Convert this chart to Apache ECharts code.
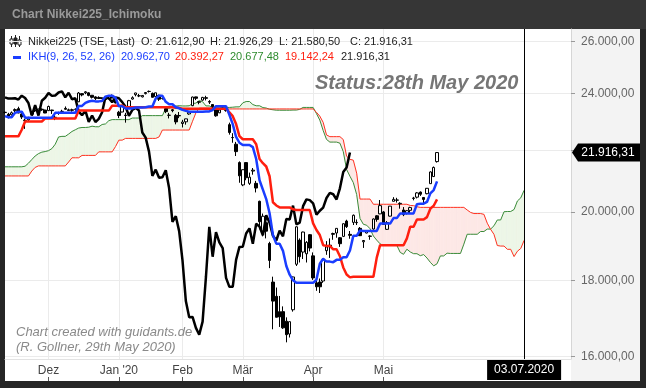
<!DOCTYPE html>
<html><head><meta charset="utf-8">
<script src="https://cdn.jsdelivr.net/npm/echarts@6/dist/echarts.min.js"></script>
<style>html,body{margin:0;padding:0;background:#262626;}#c{width:646px;height:388px;}</style>
</head><body><div id="c"></div>
<script>
// ---------- trading calendar (categories) ----------
const tradingDays = [
 ['11.2019',[13,14,15,18,19,20,21,22,25,26,27,28,29]],
 ['12.2019',[2,3,4,5,6,9,10,11,12,13,16,17,18,19,20,23,24,25,26,27,30]],
 ['01.2020',[6,7,8,9,10,14,15,16,17,20,21,22,23,24,27,28,29,30,31]],
 ['02.2020',[3,4,5,6,7,10,12,13,14,17,18,19,20,21,25,26,27,28]],
 ['03.2020',[2,3,4,5,6,9,10,11,12,13,16,17,18,19,23,24,25,26,27,30,31]],
 ['04.2020',[1,2,3,6,7,8,9,10,13,14,15,16,17,20,21,22,23,24,27,28,30]],
 ['05.2020',[1,7,8,11,12,13,14,15,18,19,20,21,22,25,26,27,28,29]],
 ['06.2020',[1,2,3,4,5,8,9,10,11,12,15,16,17,18,19,22,23,24,25,26,29,30]],
 ['07.2020',[1,2,3,6,7,8,9,10,13,14,15,16,17,20,21,22,27]]
];
const monthLabels = {'12.2019':'Dez','01.2020':"Jan '20",'02.2020':'Feb','03.2020':'Mär','04.2020':'Apr','05.2020':'Mai'};
const markerDate = '03.07.2020';
const yLabelValues = [16000,18000,20000,24000,26000];
const yTickValues = [16000,18000,20000,22000,24000,26000];

// ---------- Nikkei225 daily candles (13.11.2019 - 28.05.2020) ----------
const opens = [
 23310,23250,23230,23380,23450,23260,23020,23050,23250,23390,23390,23430,23400,
 23380,23400,23140,23290,23350,23460,23380,23410,23430,23700,24000,24030,24030,23940,23880,23860,23840,23800,23810,23900,23780,
 23320,23330,23220,23530,23800,23960,23920,23880,24000,24080,24010,23890,23940,23820,23450,23210,23410,23210,23190,
 22920,22980,23260,23560,23880,23700,23760,23850,23710,23600,23420,23300,23440,23460,22880,22430,22200,21580,
 20850,21580,20900,21300,20900,20330,19390,19670,19050,17950,17560,17150,17150,16900,16570,17200,18450,19150,18800,18750,19310,
 18690,17930,17950,17980,18840,19000,19320,19360,19220,19260,19720,19320,19680,19680,19500,19100,19360,19270,19480,19880,19940,
 20000,19470,19870,20330,20370,20250,20060,19960,20050,20420,20460,20620,20450,20570,20890,21120,21612.90];
const highs = [
 23350,23300,23350,23460,23520,23300,23090,23160,23330,23410,23440,23460,23410,
 23560,23410,23220,23340,23410,23530,23450,23450,23460,24060,24010,24090,24050,23940,23900,23900,23860,23820,23930,23970,23800,
 23370,23580,23300,23770,23900,24030,23990,23940,24060,24115,24040,24030,23960,23900,23470,23300,23440,23260,23330,
 23050,23090,23360,23890,23890,23720,23880,23920,23760,23610,23470,23410,23540,23490,22950,22580,22280,21620,
 21350,21590,21250,21400,20980,20350,19950,19780,19100,18100,17800,17570,17290,17000,16890,18100,19560,19200,19400,19120,19330,
 18790,18100,18050,18600,19120,19200,19370,19500,19240,19650,19760,19420,19920,19770,19540,19150,19450,19290,19800,19900,20370,
 20030,19720,20180,20460,20440,20300,20150,20060,20160,20470,20620,20640,20460,20750,21290,21450,21926.29];
const lows = [
 23270,23100,23200,23310,23290,23080,22730,22990,23230,23330,23360,23370,23290,
 23370,23260,23040,23230,23330,23410,23380,23340,23370,23690,23900,23980,23900,23820,23760,23800,23800,23760,23800,23830,23640,
 23110,23320,22950,23520,23780,23900,23870,23860,23970,24040,23860,23880,23730,23780,23290,23100,23320,22890,23110,
 22780,22880,23230,23540,23760,23610,23740,23750,23620,23460,23160,23290,23420,23340,22530,22250,21800,20920,
 20810,21000,20850,21180,20610,19470,19260,19200,18340,16690,17000,16750,16700,16358,16480,17150,18400,18500,18600,18500,18820,
 18010,17710,17650,17930,18720,18630,19160,19220,18950,19240,19510,19190,19600,19600,19270,18920,19350,19160,19460,19700,19930,
 19620,19450,19860,20330,20290,20100,19870,19920,19960,20360,20420,20500,20270,20550,20890,21110,21580.50];
const closes = [
 23320,23141,23303,23417,23293,23148,23038,23113,23293,23373,23438,23410,23294,
 23529,23380,23135,23300,23354,23430,23410,23391,23424,24023,23952,24066,23934,23864,23816,23821,23830,23782,23924,23837,23657,
 23204,23575,23204,23740,23850,24025,23917,23933,24041,24083,23865,24031,23795,23827,23344,23216,23379,22977,23205,
 22972,23085,23320,23874,23828,23686,23861,23828,23688,23523,23194,23401,23479,23387,22605,22426,21948,21143,
 21344,21082,21100,21329,20750,19699,19867,19416,18560,17431,17002,17011,16727,16552,16887,18092,19546,18665,19389,19084,18917,
 18066,17819,17820,18576,18950,18954,19346,19499,19044,19639,19551,19291,19897,19670,19281,19138,19429,19262,19784,19771,20194,
 19619,19674,20179,20391,20366,20267,19915,20037,20134,20433,20595,20552,20388,20742,21271,21419,21916.31];

// ---------- Ichimoku lines ----------
const tenkan = [
 23180,23140,23140,23300,23340,23340,23125,23125,23125,23125,23125,23125,23125,23125,23125,
 23300,23300,23300,23300,23300,23300,23300,23550,23550,23660,23710,23735,23715,23715,23730,23890,23925,23925,23845,
 23540,23540,23460,23460,23460,23490,23490,23490,23505,23530,23530,23820,23920,23920,23700,23610,23610,23500,23465,
 23405,23370,23340,23335,23335,23335,23335,23350,23350,23400,23540,23540,23540,23540,23225,22900,22450,22250,
 22175,22175,22175,22100,21700,21000,20700,20400,19960,19300,19045,19045,18835,18400,18155,18000,17930,17930,17930,17930,17930,
 17930,18020,18465,18605,18525,18525,18510,18575,18575,18650,18650,18845,19275,19275,19435,19420,19420,19420,19420,19420,
 19645,19645,19645,19645,19810,19810,19955,19955,19955,19955,19955,20240,20255,20255,20310,20580,20685,20962.70];
const kijun = [
 22470,22470,22470,22470,22470,22700,22990,22990,22990,22990,22990,22990,
 23100,23100,23100,23100,23100,23100,23100,23100,23100,23100,
 23380,23380,23380,23380,23380,23380,23380,23380,23380,23380,23560,23560,23560,23560,
 23500,23500,23500,23500,23500,23500,23500,23500,23500,23500,23500,23500,23500,23500,23500,23480,23480,
 23450,23450,23450,23450,23450,23450,23450,23450,23450,23450,23450,23450,23450,23450,
 23320,23180,22900,22480,22370,22370,22370,22370,22200,21700,21560,21450,21130,
 20300,20200,20140,20140,20140,20140,20080,20060,20060,20060,20060,20060,
 19650,19450,19300,19000,18980,18980,18880,18880,18680,18360,18160,18080,
 18100,18100,18100,18100,18100,18100,18100,18640,19000,19000,19000,19000,19000,19000,19000,19000,
 19200,19550,19550,19770,19770,19770,19840,20100,20190,20392.27];
const senkouA = [
 21440,21440,21440,21440,21440,21440,21460,21560,21680,21800,21880,21930,21950,21980,22050,22200,22450,22470,22470,22550,22640,22700,22760,22780,22780,22790,
 22825,22805,22805,22885,22905,23020,23058,23058,23058,23058,23058,23058,23113,23113,23113,
 23200,23200,23200,23200,23200,23200,23200,23465,23465,23520,23545,23558,23548,23548,23555,23635,23653,23743,23703,23550,23550,
 23480,23480,23480,23495,23495,23495,23503,23515,23515,23660,23710,23710,23600,23555,23555,23490,23473,23428,23410,23395,
 23393,23393,23393,23393,23400,23400,23425,23495,23495,23495,23495,23273,23040,22675,22365,22273,22273,22273,22235,21950,
 21350,21130,20925,20545,19800,19623,19593,19488,19270,19148,19040,18995,18995,18995,18995,18995,18790,18735,18883,18803,
 18753,18753,18695,18728,18628,18505,18405,18463,18688,18688,18768,18760,18760,18760,18760,19030,19323,19323,19323,19323,
 19405,19405,19478,19478,19578,19753,19753,20005,20013,20013,20075,20340,20438,20677.48];
const senkouB = [
 21140,21140,21140,21140,21140,21140,21140,21140,21300,21420,
 21470,21470,21470,21470,21470,21470,21470,21470,21470,21600,21740,21740,21740,
 21820,21820,21820,21820,21820,21940,21940,21940,21940,21940,22120,22340,22340,
 22400,22400,22400,22400,22400,22400,22400,22400,22400,22400,22450,
 22690,22690,22690,22690,22690,22690,22690,22690,22690,23000,23300,23470,23470,23470,23470,23470,
 23440,23440,23440,23440,23440,23440,23440,23440,23440,23440,23440,23440,23440,23440,23440,
 23440,23440,23440,23440,23440,23440,23440,23440,23440,23440,23440,23440,23440,23440,23440,
 23320,23180,22960,22520,22460,22460,22460,22460,22360,21790,21690,21660,21230,20400,20400,20400,20400,
 20237,20237,20237,20237,20237,20237,20237,20237,20237,20237,20237,20200,20195,20160,
 20140,20140,20140,20140,20140,20140,20140,20140,20140,20140,20140,20140,20140,20140,
 20060,19985,19950,19950,19950,19925,19655,19470,19320,18990,18975,18975,18880,18880,18670,18824,18904,19142.24];

// ---------- build tables ----------
const cats = [];
const monthStartIdx = {};
tradingDays.forEach(([my, days]) => {
  days.forEach((d, k) => {
    if (k === 0 && monthLabels[my]) monthStartIdx[cats.length] = monthLabels[my];
    cats.push(String(d).padStart(2, '0') + '.' + my);
  });
});
const candleData = opens.map((o, i) => [o, closes[i], lows[i], highs[i]]);
const chikou = closes.slice(26);
const cloudData = [];
for (let i = 0; i + 1 < senkouA.length; i++) {
  cloudData.push([i, senkouA[i], senkouB[i], senkouA[i + 1], senkouB[i + 1]]);
}
const markerIdx = cats.indexOf(markerDate);
const last = closes.length - 1;

function fmt(v) {
  const s = Number(v).toFixed(2).split('.');
  return s[0].replace(/\B(?=(\d{3})+(?!\d))/g, '.') + ',' + s[1];
}
const FF = '"Liberation Sans", Arial, sans-serif';
const isMonth = (i) => monthStartIdx[i] !== undefined;

function renderCloud(params, api) {
  const i = api.value(0);
  const a1 = api.coord([i, api.value(1)]), b1 = api.coord([i, api.value(2)]);
  const a2 = api.coord([i + 1, api.value(3)]), b2 = api.coord([i + 1, api.value(4)]);
  const d1 = b1[1] - a1[1], d2 = b2[1] - a2[1];
  const G = '#edf6e7', P = '#fde8e6';
  const poly = (pts, c) => ({type: 'polygon', shape: {points: pts}, style: {fill: c, stroke: c, lineWidth: 0.6}});
  if (d1 * d2 >= 0) return poly([a1, a2, b2, b1], (d1 + d2) >= 0 ? G : P);
  const t = d1 / (d1 - d2);
  const c = [a1[0] + t * (a2[0] - a1[0]), a1[1] + t * (a2[1] - a1[1])];
  return {type: 'group', children: [poly([a1, c, b1], d1 > 0 ? G : P), poly([c, a2, b2], d2 > 0 ? G : P)]};
}

const chart = echarts.init(document.getElementById('c'), null, {renderer: 'canvas'});

const txt = (id, x, y, text, fill, font, extra) => Object.assign({
  type: 'text', id, z: 100, silent: true,
  style: {x, y, text, fill, font, verticalAlign: 'middle', align: 'left'}
}, extra || {});

const legendRow1 = [
  ['Nikkei225 (TSE, Last)', 28], ['O: ' + fmt(opens[last]), 141], ['H: ' + fmt(highs[last]), 210],
  ['L: ' + fmt(lows[last]), 279], ['C: ' + fmt(closes[last]), 350]
];
const legendRow2 = [
  ['IKH(9, 26, 52, 26)', 28, '#1a3dff'], [fmt(tenkan[tenkan.length - 1]), 121, '#1a3dff'],
  [fmt(kijun[kijun.length - 1]), 175, '#ff2010'], [fmt(senkouA[markerIdx]), 230, '#2e8b2e'],
  [fmt(senkouB[markerIdx]), 285, '#ff2010'], [fmt(closes[last]), 341, '#222']
];

const graphics = [
  {type: 'rect', id: 'titlebar', z: -10, shape: {x: 0, y: 0, width: 646, height: 29}, style: {fill: '#363636'}},
  {type: 'rect', id: 'white', z: -10, shape: {x: 5, y: 29, width: 566, height: 352}, style: {fill: '#ffffff'}},
  {type: 'rect', id: 'panel', z: -10, shape: {x: 571, y: 29, width: 69, height: 352}, style: {fill: '#f3f3f3'}},
  txt('title', 12, 15, 'Chart Nikkei225_Ichimoku', '#9a9a9a', 'bold 12px ' + FF),
  {type: 'group', id: 'icon', z: 100, silent: true, children: [
    {type: 'line', shape: {x1: 11.5, y1: 36, x2: 11.5, y2: 47}, style: {stroke: '#222', lineWidth: 1}},
    {type: 'rect', shape: {x: 10, y: 39, width: 3, height: 5}, style: {fill: '#fff', stroke: '#222', lineWidth: 1}},
    {type: 'line', shape: {x1: 15.5, y1: 35, x2: 15.5, y2: 47}, style: {stroke: '#222', lineWidth: 1}},
    {type: 'rect', shape: {x: 14, y: 38, width: 3, height: 6}, style: {fill: '#222', stroke: '#222', lineWidth: 1}},
    {type: 'line', shape: {x1: 19.5, y1: 36, x2: 19.5, y2: 47}, style: {stroke: '#222', lineWidth: 1}},
    {type: 'rect', shape: {x: 18, y: 40, width: 3, height: 5}, style: {fill: '#fff', stroke: '#222', lineWidth: 1}}
  ]},
  {type: 'rect', id: 'bluedash', z: 100, shape: {x: 13, y: 56, width: 8, height: 3}, style: {fill: '#1a3dff'}},
  txt('status', 315, 83, 'Status:28th May 2020', '#767676', 'italic bold 20px ' + FF),
  txt('wm1', 16, 332, 'Chart created with guidants.de', '#8a8a8a', 'italic 13px ' + FF),
  txt('wm2', 16, 347, '(R. Gollner, 29th May 2020)', '#8a8a8a', 'italic 13px ' + FF)
];
legendRow1.forEach((r, k) => graphics.push(txt('l1_' + k, r[1], 42, r[0], '#222', '11px ' + FF)));
legendRow2.forEach((r, k) => graphics.push(txt('l2_' + k, r[1], 57, r[0], r[2], '11px ' + FF)));

const option = {
  backgroundColor: '#262626',
  animation: false,
  grid: {left: 5, right: 75, top: 29, bottom: 29, containLabel: false},
  xAxis: [{
    type: 'category', data: cats, boundaryGap: false,
    axisLine: {show: true, lineStyle: {color: '#e2e2e2'}},
    axisTick: {show: false},
    axisLabel: {interval: (i) => isMonth(i), formatter: (v, i) => monthStartIdx[i] || '',
      color: '#444', fontSize: 12, fontFamily: FF, margin: 6},
    splitLine: {show: true, interval: (i) => isMonth(i), lineStyle: {color: '#ebebeb'}}
  }, {
    type: 'category', data: cats, boundaryGap: false, position: 'bottom', offset: 18,
    axisLine: {show: false},
    axisTick: {show: true, interval: (i) => isMonth(i), length: 4, lineStyle: {color: '#555'}},
    axisLabel: {show: false}, splitLine: {show: false}
  }],
  yAxis: {
    type: 'log', logBase: 10, min: 15943, max: 26514, position: 'right',
    axisLine: {show: true, lineStyle: {color: '#d6d6d6'}},
    axisTick: {show: true, length: 4, customValues: yTickValues, lineStyle: {color: '#999'}},
    axisLabel: {customValues: yLabelValues, formatter: (v) => fmt(v), color: '#666', fontSize: 12, fontFamily: FF, margin: 10},
    splitLine: {show: true, lineStyle: {color: '#ebebeb'}}
  },
  series: [
    {type: 'custom', name: 'Kumo', renderItem: renderCloud, data: cloudData, encode: {x: 0, y: [1, 2, 3, 4]}, clip: true, silent: true, z: 1},
    {type: 'line', name: 'Senkou A', data: senkouA, showSymbol: false, lineStyle: {color: '#3a8c3a', width: 1}, z: 2, silent: true},
    {type: 'line', name: 'Senkou B', data: senkouB, showSymbol: false, lineStyle: {color: '#ff3322', width: 1}, z: 2, silent: true},
    {type: 'candlestick', name: 'Nikkei225', data: candleData, barWidth: 3, z: 3,
      itemStyle: {color: '#ffffff', color0: '#000000', borderColor: '#000000', borderColor0: '#000000', borderWidth: 1}},
    {type: 'line', name: 'Chikou', data: chikou, showSymbol: false, lineStyle: {color: '#000000', width: 2.5}, z: 4, silent: true},
    {type: 'line', name: 'Kijun', data: kijun, showSymbol: false, lineStyle: {color: '#ff1f0f', width: 2.5}, z: 5, silent: true},
    {type: 'line', name: 'Tenkan', data: tenkan, showSymbol: false, lineStyle: {color: '#1a3dff', width: 2.5}, z: 6, silent: true,
      markLine: {silent: true, symbol: ['none', 'none'], label: {show: false}, animation: false,
        lineStyle: {color: '#000', width: 1, type: 'solid'}, data: [{xAxis: markerDate}]}}
  ],
  graphic: graphics
};
chart.setOption(option);

// overlays positioned through the axes
const py = chart.convertToPixel({yAxisIndex: 0}, closes[last]);
const px = chart.convertToPixel({xAxisIndex: 0}, markerDate);
chart.setOption({graphic: [
  {type: 'polygon', id: 'ptag', z: 110, silent: true,
    shape: {points: [[572, py], [578, py - 9], [640, py - 9], [640, py + 9], [578, py + 9]]}, style: {fill: '#000'}},
  {type: 'text', id: 'ptagt', z: 111, silent: true,
    style: {x: 608, y: py, text: fmt(closes[last]), fill: '#fff', font: '12px ' + FF, align: 'center', verticalAlign: 'middle'}},
  {type: 'rect', id: 'dbox', z: 110, silent: true, shape: {x: px - 37, y: 360, width: 74, height: 20}, style: {fill: '#000'}},
  {type: 'text', id: 'dboxt', z: 111, silent: true,
    style: {x: px, y: 370, text: markerDate, fill: '#fff', font: '12px ' + FF, align: 'center', verticalAlign: 'middle'}}
]});
</script></body></html>
